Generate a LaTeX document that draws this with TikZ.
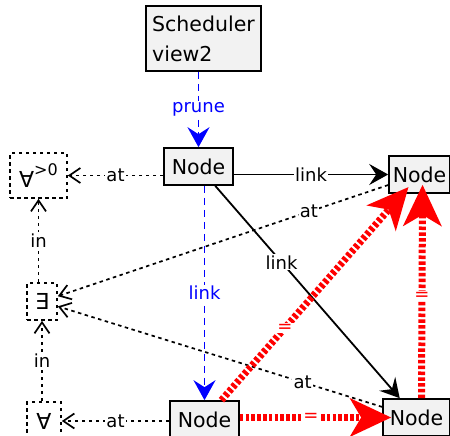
\documentclass[tikz,border=0pt]{standalone}
\usepackage{fontspec}
\setmainfont{DejaVu Sans}
\usetikzlibrary{arrows.meta}
\begin{document}
\begin{tikzpicture}[x=1pt,y=-1pt,
  nodebox/.style={draw=black, line width=1.6pt, fill={rgb,255:red,242;green,242;blue,242}, inner sep=0pt, font=\fontsize{20.5}{30}\selectfont},
  quant/.style={draw=black, line width=1.7pt, dash pattern=on 3.5pt off 3.5pt, inner sep=0pt, font=\fontsize{22}{24}\selectfont},
  lbl/.style={fill=white, inner sep=1.2pt, font=\fontsize{18}{20}\selectfont},
  redlbl/.style={lbl, text=red},
  linkarr/.style={line width=1.8pt, -{Stealth[length=19pt,width=21pt,inset=7pt]}},
  bluearr/.style={blue, line width=1.8pt, dash pattern=on 7pt off 5pt, -{Stealth[length=20pt,width=22pt,inset=7pt]}},
  dotarr/.style={line width=1.7pt, dash pattern=on 3.5pt off 3.5pt, -{Straight Barb[length=11pt,width=15pt,line width=1.7pt]}},
  redarr/.style={red, line width=7pt, dash pattern=on 3.5pt off 2.3pt, -{Stealth[length=41pt,width=38pt,inset=11pt]}, shorten >=-9pt}
]
\useasboundingbox (0,0) rectangle (450,436);

\node[nodebox, minimum width=115pt, minimum height=65pt, align=left] (sch) at (203.5,38.5) {Scheduler\\view2};
\node[nodebox, minimum width=69pt, minimum height=37pt] (n1) at (198.5,166.5) {Node};
\node[nodebox, minimum width=61pt, minimum height=37pt] (ntr) at (419.5,174.5) {Node};
\node[nodebox, minimum width=69pt, minimum height=37pt] (nbl) at (204.5,419.5) {Node};
\node[nodebox, minimum width=67pt, minimum height=37pt] (nbr) at (416.5,417.5) {Node};

\node[quant, minimum width=57pt, minimum height=45pt] (fa0) at (38.5,175.5) {∀\raisebox{1.0ex}{\fontsize{16}{16}\selectfont >0}};
\node[quant, minimum width=30pt, minimum height=37pt] (ex) at (42,301.5) {∃};
\node[quant, minimum width=34pt, minimum height=38pt] (fa) at (44,421) {∀};

\draw[bluearr] (n1 |- sch.south) -- node[lbl, text=blue]{prune} (n1.north);
\draw[linkarr] (n1.east |- ntr) -- node[lbl]{link} (ntr.west);
\draw[linkarr] (n1) -- node[lbl, pos=0.36]{link} (nbr);
\draw[bluearr] (nbl |- n1.south) -- node[lbl, text=blue]{link} (nbl.north);

\draw[dotarr] (ntr) -- node[lbl, pos=0.24]{at} (ex);
\draw[dotarr] (nbr) -- node[lbl, pos=0.245]{at} (ex);
\draw[dotarr] (n1.west |- fa0) -- node[lbl]{at} (fa0.east);
\draw[dotarr] (nbl.west |- fa) -- node[lbl]{at} (fa.east);
\draw[dotarr] (fa0 |- ex.north) -- node[lbl]{in} (fa0.south);
\draw[dotarr] (ex |- fa.north) -- node[lbl]{in} (ex.south);

\draw[redarr] (nbl) -- node[redlbl, pos=0.35]{=} (ntr);
\draw[redarr] (nbl.east |- nbr) -- node[redlbl]{=} (nbr.west);
\draw[redarr] ([xshift=5pt]nbr.north) -- node[redlbl]{=} ([xshift=3pt]ntr.south);
\end{tikzpicture}
\end{document}
